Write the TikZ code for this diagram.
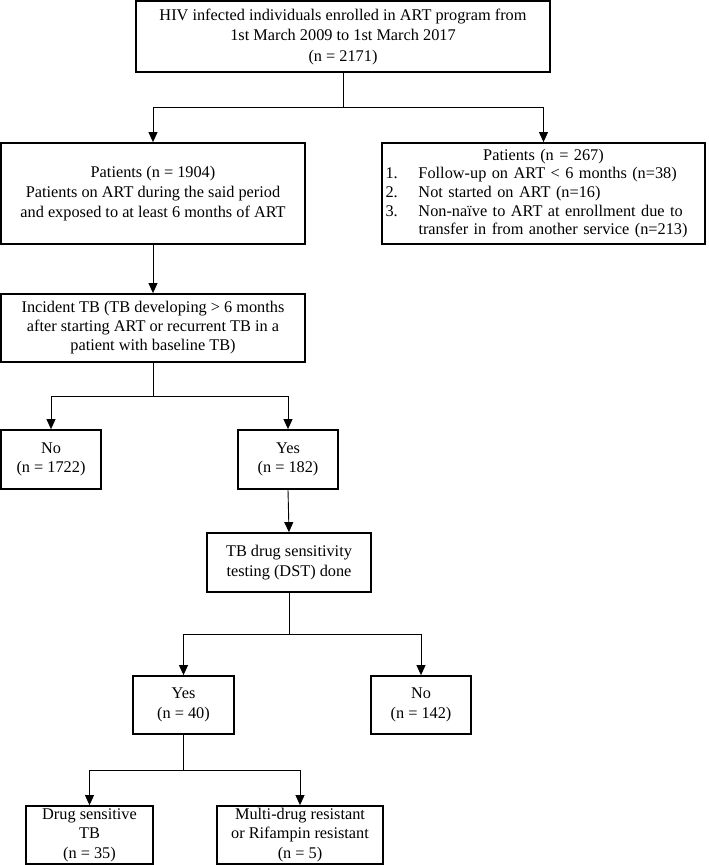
\documentclass[tikz,border=0pt]{standalone}
\usepackage{fontspec}
\setmainfont{Liberation Serif}
\usetikzlibrary{arrows.meta}
\begin{document}
\begin{tikzpicture}[x=1pt,y=-1pt,
  box/.style={draw, line width=1.8pt, align=center, inner sep=0pt,
    font=\fontsize{16.3}{19.5}\selectfont},
  conn/.style={line width=0.9pt},
  arr/.style={conn, -{Triangle[length=10pt,width=9pt]}}
]
\useasboundingbox (0,0) rectangle (709,865);

\node[box, minimum width=414pt, minimum height=71pt, font=\fontsize{16.3}{20.5}\selectfont] (top) at (343,36.5)
  {HIV infected individuals enrolled in ART program from\\1st March 2009 to 1st March 2017\\(n = 2171)};

\node[box, minimum width=304pt, minimum height=101pt, font=\fontsize{16.3}{20}\selectfont] (p1904) at (153,193.5)
  {Patients (n = 1904)\\Patients on ART during the said period\\and exposed to at least 6 months of ART};

\node[box, minimum width=323pt, minimum height=101pt, text width=316pt, align=left,
  font=\fontsize{16.3}{18.6}\selectfont] (p267) at (543.5,193.5)
  {\noindent\makebox[316pt]{Patients (n = 267)}\par
   \noindent\hangindent=33pt\hangafter=1\makebox[33pt][l]{1.}Follow-up on ART < 6 months (n=38)\par
   \noindent\hangindent=33pt\hangafter=1\makebox[33pt][l]{2.}Not started on ART (n=16)\par
   \noindent\hangindent=33pt\hangafter=1\makebox[33pt][l]{3.}Non-naïve to ART at enrollment due to\newline transfer in from another service (n=213)\par};

\node[box, minimum width=304pt, minimum height=68pt, font=\fontsize{16.3}{19}\selectfont] (incident) at (153,328)
  {Incident TB (TB developing > 6 months\\after starting ART or recurrent TB in a\\patient with baseline TB)};

\node[box, minimum width=100pt, minimum height=59pt] (no1722) at (51,459.5) {No\\(n = 1722)};
\node[box, minimum width=100pt, minimum height=59pt] (yes182) at (288,459.5) {Yes\\(n = 182)};

\node[box, minimum width=164pt, minimum height=59pt] (dst) at (289,562.5)
  {TB drug sensitivity\\testing (DST) done};

\node[box, minimum width=101pt, minimum height=58pt] (yes40) at (183.5,705) {Yes\\(n = 40)};
\node[box, minimum width=100pt, minimum height=58pt] (no142) at (421,705) {No\\(n = 142)};

\node[box, minimum width=127pt, minimum height=58pt] (ds) at (89.5,835) {Drug sensitive\\TB\\(n = 35)};
\node[box, minimum width=166pt, minimum height=58pt] (mdr) at (300,835) {Multi-drug resistant\\or Rifampin resistant\\(n = 5)};

\coordinate (j1) at (343,107);
\draw[conn] (top.south) -- (j1);
\draw[arr] (j1) -| (p1904.north);
\draw[arr] (j1) -| (p267.north);

\draw[arr] (p1904.south) -- (incident.north);

\coordinate (j2) at (153,396);
\draw[conn] (incident.south) -- (j2);
\draw[arr] (j2) -| (no1722.north);
\draw[arr] (j2) -| (yes182.north);

\draw[arr] (yes182.south) -- (dst.north);

\coordinate (j3) at (289,634);
\draw[conn] (dst.south) -- (j3);
\draw[arr] (j3) -| (yes40.north);
\draw[arr] (j3) -| (no142.north);

\coordinate (j4) at (183.5,770);
\draw[conn] (yes40.south) -- (j4);
\draw[arr] (j4) -| (ds.north);
\draw[arr] (j4) -| (mdr.north);
\end{tikzpicture}
\end{document}
